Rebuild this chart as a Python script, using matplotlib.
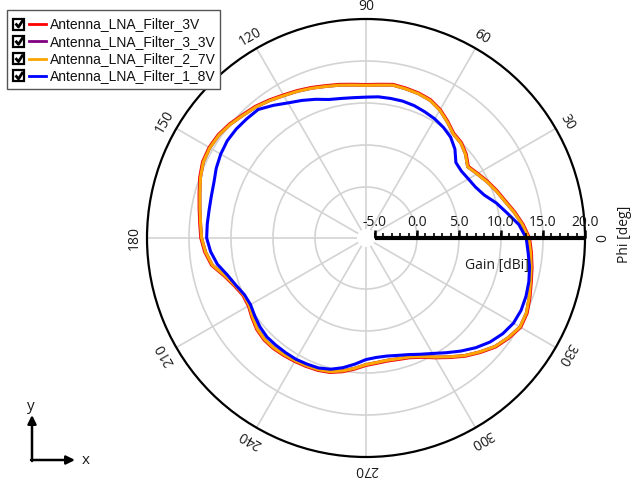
import numpy as np
import matplotlib
matplotlib.use("Agg")
import matplotlib.pyplot as plt
from matplotlib.patches import Rectangle

plt.rcParams['font.family'] = ['Open Sans', 'DejaVu Sans']

# Phi in degrees (5 deg steps), gain in dBi
phi = list(range(0, 360, 5))

gain_3v = [13.4, 12.7, 11.9, 11.1, 10.5, 9.9, 9.3, 8.8, 9.5, 10.0, 10.2, 10.9,
           11.6, 12.1, 12.3, 12.4, 12.5, 12.3, 12.2, 12.3, 12.5, 12.7, 13.0, 13.3,
           13.6, 14.0, 14.4, 14.7, 15.1, 15.4, 15.5, 15.4, 15.0, 14.5, 14.1, 13.8,
           13.6, 13.2, 12.6, 11.4, 10.6, 10.1, 10.1, 10.5, 10.9, 11.1, 11.1, 11.0,
           10.9, 10.8, 10.7, 10.5, 10.1, 9.6, 9.1, 8.9, 8.8, 8.9, 9.1, 9.6,
           10.4, 11.3, 12.3, 13.2, 14.1, 14.7, 15.2, 15.1, 14.7, 14.3, 14.0, 13.7]
gain_3_3v = [13.3, 12.6, 11.8, 11.0, 10.4, 9.8, 9.2, 8.7, 9.4, 9.9, 10.1, 10.8,
             11.5, 12.0, 12.2, 12.3, 12.4, 12.2, 12.1, 12.2, 12.4, 12.6, 12.9, 13.2,
             13.5, 13.9, 14.3, 14.6, 15.0, 15.3, 15.4, 15.3, 14.9, 14.4, 14.0, 13.7,
             13.5, 13.1, 12.5, 11.3, 10.5, 10.0, 10.0, 10.4, 10.8, 11.0, 11.0, 10.9,
             10.8, 10.7, 10.6, 10.4, 10.0, 9.5, 9.0, 8.8, 8.7, 8.8, 9.0, 9.5,
             10.3, 11.2, 12.2, 13.1, 14.0, 14.6, 15.1, 15.0, 14.6, 14.2, 13.9, 13.6]
gain_2_7v = [13.3, 12.6, 11.8, 11.0, 10.4, 9.8, 9.2, 8.7, 9.4, 9.9, 10.1, 10.8,
             11.5, 12.0, 12.2, 12.3, 12.4, 12.2, 12.1, 12.2, 12.4, 12.6, 12.9, 13.2,
             13.5, 13.9, 14.3, 14.6, 15.0, 15.3, 15.4, 15.3, 14.9, 14.4, 14.0, 13.7,
             13.5, 13.1, 12.5, 11.3, 10.5, 10.0, 10.0, 10.4, 10.8, 11.0, 11.0, 10.9,
             10.8, 10.7, 10.6, 10.4, 10.0, 9.5, 9.0, 8.8, 8.7, 8.8, 9.0, 9.5,
             10.3, 11.2, 12.2, 13.1, 14.0, 14.6, 15.1, 15.0, 14.6, 14.2, 13.9, 13.6]
gain_1_8v = [13.0, 12.2, 11.0, 10.0, 8.9, 8.3, 8.0, 7.8, 7.9, 8.9, 9.6, 10.0,
             10.3, 10.5, 10.7, 10.8, 10.8, 10.8, 10.7, 10.7, 10.8, 11.0, 11.5, 12.0,
             12.5, 13.2, 13.9, 14.0, 14.1, 14.1, 13.9, 13.6, 13.2, 13.0, 12.9, 12.9,
             12.9, 12.5, 11.9, 11.0, 10.4, 9.9, 9.8, 10.1, 10.4, 10.6, 10.6, 10.6,
             10.6, 10.5, 10.4, 10.1, 9.6, 9.0, 8.4, 8.2, 8.2, 8.4, 8.7, 9.2,
             9.8, 10.6, 11.5, 12.4, 13.2, 13.8, 14.2, 14.3, 14.2, 14.0, 13.7, 13.3]

names = ["Antenna_LNA_Filter_3V", "Antenna_LNA_Filter_3_3V",
         "Antenna_LNA_Filter_2_7V", "Antenna_LNA_Filter_1_8V"]
colors = ["#ff0000", "#800080", "#ffa500", "#0000ff"]
series = [gain_3v, gain_3_3v, gain_2_7v, gain_1_8v]

r_ticks = [-5, 0, 5, 10, 15, 20]
r_minor = list(range(-5, 21))
theta_labels = list(range(0, 360, 30))

W, H = 631, 483
fig = plt.figure(figsize=(W / 100, H / 100), dpi=100)
fig.patch.set_facecolor("white")

# polar plot, center (366, 238), radius 219 px
cx, cy, R = 366, 238, 219
ax = fig.add_axes([(cx - R) / W, (H - cy - R) / H, 2 * R / W, 2 * R / H],
                  projection="polar")
ax.set_rorigin(-6.07)
ax.set_rlim(-5, 20)
ax.set_yticks([0, 5, 10, 15])
ax.set_yticklabels([])
ax.set_xticks(np.deg2rad(theta_labels))
ax.set_xticklabels([])
ax.tick_params(axis="x", length=7, width=1.2, direction="inout", color="k")
ax.grid(color="#d3d3d3", linewidth=1.2)
ax.spines["polar"].set_linewidth(1.6)
ax.spines["inner"].set_linewidth(0)
ax.spines["inner"].set_edgecolor("none")

th = np.deg2rad(phi + [360])
for g, c in zip(series, colors):
    ax.plot(th, g + [g[0]], color=c, linewidth=2.2)

# radial scale bar along phi=0
ax.plot([0, 0], [-5, 20], color="k", linewidth=3, solid_capstyle="butt",
        clip_on=False, zorder=10)
ax.plot(np.zeros(len(r_minor)), r_minor, linestyle="none", marker=2,
        markersize=3.5, markeredgewidth=1.2, color="k", clip_on=False, zorder=10)
ax.plot(np.zeros(len(r_ticks)), r_ticks, linestyle="none", marker=2,
        markersize=6, markeredgewidth=1.8, color="k", clip_on=False, zorder=10)
for r in r_ticks:
    ax.annotate("%.1f" % r, (0, r), xytext=(0, 8), textcoords="offset pixels",
                ha="center", va="bottom", fontsize=10, color="#1a1a1a",
                annotation_clip=False, zorder=11)
ax.annotate("Gain [dBi]", (0, 9.5), xytext=(0, -20), textcoords="offset pixels",
            ha="center", va="top", fontsize=10, color="#1a1a1a",
            annotation_clip=False)

# theta labels, rotated along the circle
for t in theta_labels:
    a = np.deg2rad(t)
    x = cx + (R + 13) * np.cos(a)
    y = H - cy + (R + 13) * np.sin(a)
    fig.text(x / W, y / H, str(t), rotation=t - 90, rotation_mode="anchor",
             ha="center", va="center", fontsize=10, color="#1a1a1a")

fig.text(624 / W, (H - 234) / H, "Phi [deg]", rotation=90, ha="center",
         va="center", fontsize=10, color="#1a1a1a")

# overlay in pixel coordinates for legend and axis indicator
ov = fig.add_axes([0, 0, 1, 1], zorder=20)
ov.set_xlim(0, W)
ov.set_ylim(H, 0)
ov.axis("off")
ov.patch.set_alpha(0)

ov.add_patch(Rectangle((7, 10), 213, 79, facecolor="white", edgecolor="#555555",
                       linewidth=1))
for i, (n, c) in enumerate(zip(names, colors)):
    y = 24 + i * 17.3
    ov.add_patch(Rectangle((13, y - 5.5), 11, 11, facecolor="white",
                           edgecolor="k", linewidth=1.6))
    ov.plot([15.5, 18.5, 23], [y - 0.5, y + 3, y - 4], color="k", linewidth=2,
            solid_capstyle="butt")
    ov.plot([29, 46], [y, y], color=c, linewidth=2)
    ov.text(50, y + 0.5, n, ha="left", va="center", fontsize=10,
            family=["Liberation Sans", "DejaVu Sans"], color="#111111")

ov.annotate("", xy=(32, 415), xytext=(32, 461),
            arrowprops=dict(arrowstyle="-|>,head_length=0.5,head_width=0.25",
                            color="k", lw=1.8, shrinkA=0, shrinkB=0))
ov.annotate("", xy=(75, 460), xytext=(31, 460),
            arrowprops=dict(arrowstyle="-|>,head_length=0.5,head_width=0.25",
                            color="k", lw=1.8, shrinkA=0, shrinkB=0))
ov.text(31, 406, "y", ha="center", va="center", fontsize=11, color="#1a1a1a")
ov.text(86, 461, "x", ha="center", va="center", fontsize=11, color="#1a1a1a")

fig.savefig("out.png", dpi=100)
